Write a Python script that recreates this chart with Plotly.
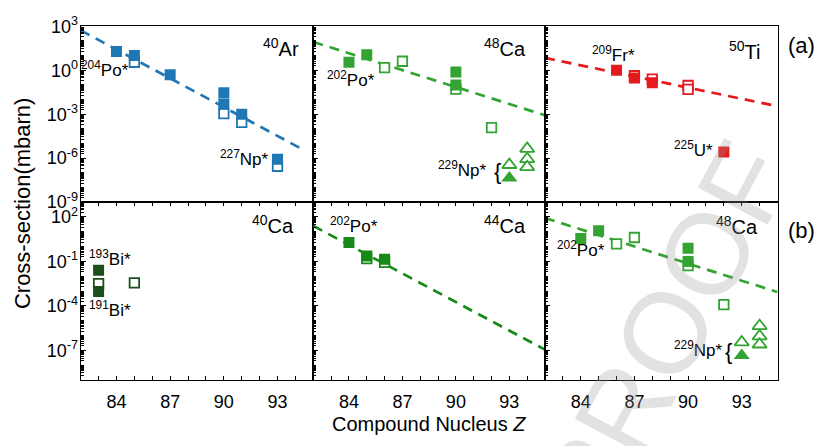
import plotly.graph_objects as go

# ---------------- data (cross sections in mbarn) ----------------
# (a) 40Ar
AR_Z_FILLED = [84, 85, 87, 90, 90, 91, 93]
AR_S_FILLED = [18.6, 10.2, 0.49, 0.029, 0.005, 9.8e-4, 8.3e-7]
AR_Z_OPEN = [85, 90, 91, 93]
AR_S_OPEN = [3.5, 1.1e-3, 2.8e-4, 2.8e-7]
AR_Z_FIT = [82, 94.45]
AR_S_FIT = [525, 3.7e-6]

# 48Ca (shown in (a) and (b))
CA48_Z_FILLED = [84, 85, 90, 90]
CA48_S_FILLED = [3.5, 11.5, 0.76, 0.10]
CA48_Z_OPEN = [86, 87, 90, 92]
CA48_S_OPEN = [1.5, 4.1, 0.052, 1.2e-4]
CA48_Z_TRI_FILLED = [93]
CA48_S_TRI_FILLED = [4.4e-8]
CA48_Z_TRI_OPEN = [93, 94, 94, 94]
CA48_S_TRI_OPEN = [3.5e-7, 4.4e-6, 8.9e-7, 2.5e-7]
CA48_Z_FIT = [82, 95]
CA48_S_FIT = [85, 8.5e-4]

# 50Ti
TI_Z_FILLED = [86, 87, 88, 92]
TI_S_FILLED = [1.0, 0.30, 0.138, 2.6e-6]
TI_Z_OPEN = [87, 88, 90, 90]
TI_S_OPEN = [0.42, 0.25, 0.091, 0.05]
TI_Z_FIT = [82, 95]
TI_S_FIT = [6.9, 3.5e-3]

# (b) 40Ca
CA40_Z_FILLED = [83, 83]
CA40_S_FILLED = [0.025, 9.3e-4]
CA40_Z_OPEN = [83, 85]
CA40_S_OPEN = [3.2e-3, 3.5e-3]

# 44Ca
CA44_Z_FILLED = [84, 85, 86]
CA44_S_FILLED = [1.9, 0.23, 0.14]
CA44_Z_OPEN = [85, 86]
CA44_S_OPEN = [0.155, 0.085]
CA44_Z_FIT = [82, 95]
CA44_S_FIT = [25, 1.1e-7]

# ticks
X_TICK_LABELED = [84, 87, 90, 93]
X_MINOR_TICKS = [82, 83, 85, 86, 88, 89, 91, 92, 94, 95]
Y_TOP_LABELED = [3, 0, -3, -6, -9]
Y_BOT_LABELED = [2, -1, -4, -7]

# ---------------- styling ----------------
FONT = "Liberation Sans, Arial, sans-serif"
BLUE = "#1f77b4"
GREEN = "#33a333"
RED = "#e41a1c"
DKGREEN = "#1d4f1d"
MIDGREEN = "#168a16"

W, H = 822, 446
XD = [(80.7 / W, 313.3 / W), (313.3 / W, 545.0 / W), (545.0 / W, 777.5 / W)]
YD = [(1 - 200 / H, 1 - 15 / H), (1 - 387 / H, 1 - 200 / H)]

fig = go.Figure()


def ax_ref(i):
    return ("x" if i == 1 else f"x{i}"), ("y" if i == 1 else f"y{i}")


def add_fit(i, z, s, color):
    xr, yr = ax_ref(i)
    fig.add_trace(go.Scatter(x=z, y=s, mode="lines", xaxis=xr, yaxis=yr,
                             line=dict(color=color, width=2.7, dash="10px,7px"),
                             hoverinfo="skip"))


def add_pts(i, z, s, color, symbol, filled):
    xr, yr = ax_ref(i)
    if filled:
        size = 11 if symbol == "square" else 14
        marker = dict(symbol=symbol, size=size, color=color, line=dict(width=0))
    else:
        size = 9.5 if symbol == "square" else 12.5
        marker = dict(symbol=symbol, size=size, color="white",
                      line=dict(color=color, width=1.8))
    fig.add_trace(go.Scatter(x=z, y=s, mode="markers", xaxis=xr, yaxis=yr,
                             marker=marker))


# panel 1: 40Ar
add_fit(1, AR_Z_FIT, AR_S_FIT, BLUE)
add_pts(1, AR_Z_OPEN, AR_S_OPEN, BLUE, "square", False)
add_pts(1, AR_Z_FILLED, AR_S_FILLED, BLUE, "square", True)

# panels 2 and 6: 48Ca
for p in (2, 6):
    add_fit(p, CA48_Z_FIT, CA48_S_FIT, GREEN)
    add_pts(p, CA48_Z_OPEN, CA48_S_OPEN, GREEN, "square", False)
    add_pts(p, CA48_Z_FILLED, CA48_S_FILLED, GREEN, "square", True)
    add_pts(p, CA48_Z_TRI_OPEN, CA48_S_TRI_OPEN, GREEN, "triangle-up", False)
    add_pts(p, CA48_Z_TRI_FILLED, CA48_S_TRI_FILLED, GREEN, "triangle-up", True)

# panel 3: 50Ti
add_fit(3, TI_Z_FIT, TI_S_FIT, RED)
add_pts(3, TI_Z_OPEN, TI_S_OPEN, RED, "square", False)
add_pts(3, TI_Z_FILLED, TI_S_FILLED, RED, "square", True)

# panel 4: 40Ca
add_pts(4, CA40_Z_OPEN, CA40_S_OPEN, DKGREEN, "square", False)
add_pts(4, CA40_Z_FILLED, CA40_S_FILLED, DKGREEN, "square", True)

# panel 5: 44Ca
add_fit(5, CA44_Z_FIT, CA44_S_FIT, MIDGREEN)
add_pts(5, CA44_Z_OPEN, CA44_S_OPEN, MIDGREEN, "square", False)
add_pts(5, CA44_Z_FILLED, CA44_S_FILLED, MIDGREEN, "square", True)

# ---------------- axes ----------------
layout_axes = {}
for i in range(1, 7):
    row, col = (i - 1) // 3, (i - 1) % 3
    xr, yr = ax_ref(i)
    xname = "xaxis" if i == 1 else f"xaxis{i}"
    yname = "yaxis" if i == 1 else f"yaxis{i}"
    xt = dict(domain=list(XD[col]), anchor=yr, range=[82, 95],
              showline=True, linecolor="black", linewidth=1.3, mirror=True,
              showgrid=False, zeroline=False,
              tickfont=dict(family=FONT, size=18, color="black"))
    if row == 1:
        xt.update(tickmode="array", tickvals=X_TICK_LABELED,
                  ticktext=[str(v) for v in X_TICK_LABELED],
                  ticks="inside", ticklen=4, tickwidth=1.1, tickcolor="black",
                  mirror="ticks", ticklabelstandoff=5,
                  minor=dict(tickmode="array", tickvals=X_MINOR_TICKS,
                             ticks="inside", ticklen=4, tickwidth=1.1,
                             tickcolor="black"))
    else:
        xt.update(showticklabels=False, ticks="")
    labeled = Y_TOP_LABELED if row == 0 else Y_BOT_LABELED
    minor_vals = [k * 10.0 ** e for e in range(-9, 3) for k in range(1, 10)
                  if not (k == 1 and e in labeled)]
    yt = dict(domain=list(YD[row]), anchor=xr, type="log", range=[-9, 3],
              showline=True, linecolor="black", linewidth=1.3, mirror=True,
              showgrid=False, zeroline=False,
              tickmode="array", tickvals=[10.0 ** e for e in labeled],
              ticktext=[f"10<sup>{e}</sup>" for e in labeled],
              ticks="inside", ticklen=5, tickwidth=1.1, tickcolor="black",
              showticklabels=(col == 0), ticklabelstandoff=-2,
              tickfont=dict(family=FONT, size=18, color="black"),
              minor=dict(tickmode="array", tickvals=minor_vals, ticks="inside",
                         ticklen=3, tickwidth=0.8, tickcolor="black"))
    layout_axes[xname] = xt
    layout_axes[yname] = yt

fig.update_layout(**layout_axes)


# ---------------- annotations ----------------
def px_ann(text, x, y, size, **kw):
    d = dict(text=text, x=x / W, y=1 - y / H, xref="paper", yref="paper",
             showarrow=False, xanchor="center", yanchor="middle",
             font=dict(family=FONT, size=size, color="black"))
    d.update(kw)
    return d


anns = [
    # (a)
    px_ann("<sup>40</sup>Ar", 281, 37, 20),
    px_ann("<sup>204</sup>Po*", 105, 60, 17),
    px_ann("<sup>227</sup>Np*", 244, 154, 17),
    px_ann("<sup>48</sup>Ca", 505, 37, 20),
    px_ann("<sup>202</sup>Po*", 351, 70, 17),
    px_ann("<sup>229</sup>Np*", 462, 165, 17),
    px_ann("{", 497, 168, 22),
    px_ann("<sup>50</sup>Ti", 745, 40, 20),
    px_ann("<sup>209</sup>Fr*", 613, 44, 17),
    px_ann("<sup>225</sup>U*", 693, 144, 17),
    # (b)
    px_ann("<sup>40</sup>Ca", 273, 224, 20),
    px_ann("<sup>193</sup>Bi*", 110, 259, 17),
    px_ann("<sup>191</sup>Bi*", 110, 312, 17),
    px_ann("<sup>44</sup>Ca", 505, 223, 20),
    px_ann("<sup>202</sup>Po*", 354, 224, 17),
    px_ann("<sup>48</sup>Ca", 737, 225, 20),
    px_ann("<sup>202</sup>Po*", 581, 249, 17),
    px_ann("<sup>229</sup>Np*", 698, 354, 17),
    px_ann("{", 728, 357, 22),
    px_ann("(a)", 801, 35, 22),
    px_ann("(b)", 801, 230, 22),
    # axis titles
    px_ann("Cross-section(mbarn)", 22, 201, 22, textangle=-90),
    px_ann("Compound Nucleus <i>Z</i>", 429, 433, 20),
    # faint proof watermark seen in the reference
    px_ann("PROOF", 665, 338, 115, textangle=-62,
           font=dict(family=FONT, size=115, color="rgba(150,150,150,0.28)")),
]

fig.update_layout(
    width=W, height=H,
    margin=dict(l=0, r=0, t=0, b=0),
    paper_bgcolor="white", plot_bgcolor="white",
    showlegend=False,
    annotations=anns,
    font=dict(family=FONT, color="black"),
)

fig.write_html("out.html")
